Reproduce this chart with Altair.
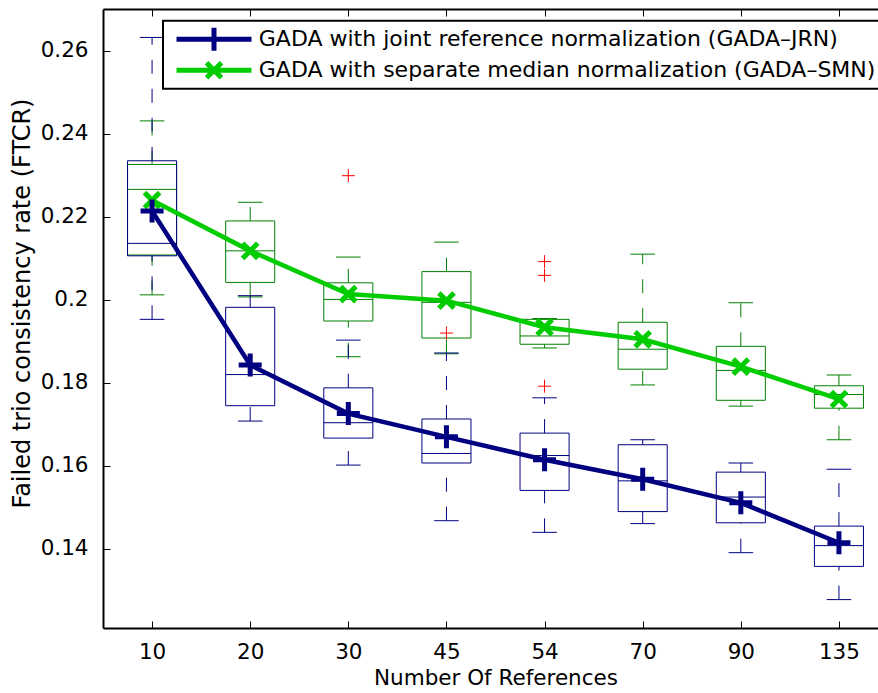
import altair as alt
import pandas as pd

# ---- data -------------------------------------------------------------
refs = ["10", "20", "30", "45", "54", "70", "90", "135"]

jrn_label = "GADA with joint reference normalization (GADA–JRN)"
smn_label = "GADA with separate median normalization (GADA–SMN)"

# box statistics (upper adjacent, quartiles, median, lower adjacent) and means
jrn_upper = [0.2632, 0.2010, 0.1903, 0.1872, 0.1764, 0.1663, 0.1607, 0.1592]
jrn_q3 = [0.2335, 0.1982, 0.1788, 0.1713, 0.1679, 0.1651, 0.1585, 0.1455]
jrn_median = [0.2136, 0.1820, 0.1704, 0.1630, 0.1625, 0.1564, 0.1525, 0.1408]
jrn_q1 = [0.2106, 0.1745, 0.1667, 0.1607, 0.1541, 0.1490, 0.1463, 0.1358]
jrn_lower = [0.1953, 0.1708, 0.1602, 0.1468, 0.1440, 0.1461, 0.1391, 0.1278]
jrn_mean = [0.2214, 0.1843, 0.1726, 0.1670, 0.1615, 0.1568, 0.1511, 0.1415]
jrn_outlier_refs = ["45", "54"]
jrn_outliers = [0.1920, 0.1792]

smn_upper = [0.2431, 0.2235, 0.2103, 0.2139, 0.1955, 0.2110, 0.1993, 0.1819]
smn_q3 = [0.2326, 0.2190, 0.2041, 0.2068, 0.1953, 0.1946, 0.1888, 0.1793]
smn_median = [0.2266, 0.2118, 0.2001, 0.1994, 0.1913, 0.1881, 0.1830, 0.1772]
smn_q1 = [0.2108, 0.2042, 0.1949, 0.1908, 0.1893, 0.1833, 0.1758, 0.1739]
smn_lower = [0.2012, 0.2007, 0.1863, 0.1870, 0.1884, 0.1795, 0.1744, 0.1663]
smn_mean = [0.2240, 0.2118, 0.2014, 0.1998, 0.1934, 0.1905, 0.1839, 0.1761]
smn_outlier_refs = ["30", "54", "54"]
smn_outliers = [0.2299, 0.2092, 0.2059]

y_ticks = [0.14, 0.16, 0.18, 0.20, 0.22, 0.24, 0.26]
y_range = [0.12096, 0.27005]

# ---- styling ----------------------------------------------------------
FONT = "DejaVu Sans"
FS = 21.5
NAVY = "#000080"
GREEN_BOX = "#008000"
GREEN_LINE = "#00CC00"
RED = "#FF0000"
BOX_HALF = 0.25
CAP_HALF = 0.125
WHISKER_DASH = [14, 15]

PLUS = "M-1,0L1,0M0,-1L0,1"
CROSS = "M-1,-1L1,1M-1,1L1,-1"
LEGEND_PLUS = "M-1,0L1,0M0,-0.307L0,0.307"
LEGEND_CROSS = "M-1,0L1,0M-0.2,-0.2L0.2,0.2M-0.2,0.2L0.2,-0.2"

positions = list(range(1, len(refs) + 1))


def stats_frame(name, upper, q3, median, q1, lower, mean):
    return pd.DataFrame({
        "series": name, "pos": positions, "ref": refs,
        "upper": upper, "q3": q3, "median": median,
        "q1": q1, "lower": lower, "mean": mean,
    })


jrn = stats_frame(jrn_label, jrn_upper, jrn_q3, jrn_median, jrn_q1, jrn_lower, jrn_mean)
smn = stats_frame(smn_label, smn_upper, smn_q3, smn_median, smn_q1, smn_lower, smn_mean)
means = pd.concat([jrn, smn], ignore_index=True)

outliers = pd.DataFrame({
    "pos": [refs.index(r) + 1 for r in jrn_outlier_refs + smn_outlier_refs],
    "value": jrn_outliers + smn_outliers,
})

X_SCALE = alt.Scale(domain=[0.5, len(refs) + 0.5], range=[0, 785], nice=False, zero=False)
Y_SCALE = alt.Scale(domain=y_range, nice=False, zero=False)

# inward tick marks are drawn as short dashes of the grid lines
frame = dict(
    grid=True, gridDash=[7, 2000], gridColor="black", gridWidth=1, gridOpacity=1,
    ticks=False, tickSize=0, domainColor="black", domainWidth=2,
)
Y_AXIS = alt.Axis(
    values=y_ticks, format="~g", labelFont=FONT, labelFontSize=FS, labelColor="black",
    labelPadding=15, title="Failed trio consistency rate (FTCR)", titleFont=FONT,
    titleFontSize=24, titleFontWeight="normal", titleColor="black", titlePadding=6,
    titleY=294,
    **frame,
)
BOTTOM_AXIS = alt.Axis(
    values=positions, labelExpr="%s[datum.value - 1]" % str(refs),
    labelFont=FONT, labelFontSize=FS, labelColor="black", labelPadding=13,
    title="Number Of References", titleFont=FONT, titleFontSize=FS,
    titleFontWeight="normal", titleColor="black", titlePadding=5,
    **frame,
)
TOP_AXIS = alt.Axis(orient="top", values=positions, labels=False, title=None, **frame)


def xenc(field, axis=None):
    return alt.X(field, type="quantitative", scale=X_SCALE, axis=axis)


def yenc(field):
    return alt.Y(field, type="quantitative", scale=Y_SCALE, axis=Y_AXIS)


def box_layers(df, color):
    base = alt.Chart(df).transform_calculate(
        b0=f"datum.pos - {BOX_HALF}", b1=f"datum.pos + {BOX_HALF}",
        c0=f"datum.pos - {CAP_HALF}", c1=f"datum.pos + {CAP_HALF}",
    )
    dashed = dict(color=color, strokeWidth=1, strokeDash=WHISKER_DASH)
    solid = dict(color=color, strokeWidth=1)
    return [
        base.mark_rule(**dashed).encode(x=xenc("pos"), y=yenc("q3"), y2="upper"),
        base.mark_rule(**dashed).encode(x=xenc("pos"), y=yenc("lower"), y2="q1"),
        base.mark_rule(**solid).encode(x=xenc("c0"), x2="c1", y=yenc("upper")),
        base.mark_rule(**solid).encode(x=xenc("c0"), x2="c1", y=yenc("lower")),
        base.mark_rect(fillOpacity=0, stroke=color, strokeWidth=1).encode(
            x=xenc("b0"), x2="b1", y=yenc("q1"), y2="q3"),
        base.mark_rule(**solid).encode(x=xenc("b0"), x2="b1", y=yenc("median")),
    ]


outlier_layer = alt.Chart(outliers).mark_point(
    shape=PLUS, filled=False, color=RED, strokeWidth=1, size=169, opacity=1
).encode(x=xenc("pos"), y=yenc("value"))

smn_line = alt.Chart(smn).mark_line(color=GREEN_LINE, strokeWidth=4.5).encode(
    x=xenc("pos"), y=yenc("mean"))
smn_marks = alt.Chart(smn).mark_point(
    shape=CROSS, filled=False, color=GREEN_LINE, strokeWidth=5, size=230, opacity=1
).encode(x=xenc("pos"), y=yenc("mean"))
jrn_line = alt.Chart(jrn).mark_line(color=NAVY, strokeWidth=4.5).encode(
    x=xenc("pos", BOTTOM_AXIS), y=yenc("mean"))
jrn_marks = alt.Chart(jrn).mark_point(
    shape=PLUS, filled=False, color=NAVY, strokeWidth=5, size=529, opacity=1
).encode(x=xenc("pos"), y=yenc("mean"))

LEGEND = alt.Legend(
    title=None, orient="none", legendX=60, legendY=11.7, padding=6,
    fillColor="white", strokeColor="black", cornerRadius=0,
    labelFont=FONT, labelFontSize=22, labelColor="black", labelLimit=1000,
    labelOffset=4.8, symbolOffset=5, symbolSize=5625, symbolStrokeWidth=5,
    clipHeight=25, rowPadding=6,
)
legend_layer = alt.Chart(means).mark_point(
    filled=False, strokeWidth=5, size=0, opacity=1
).encode(
    x=xenc("pos", TOP_AXIS),
    y=yenc("mean"),
    color=alt.Color("series:N", scale=alt.Scale(domain=[jrn_label, smn_label], range=[NAVY, GREEN_LINE]), legend=LEGEND),
    shape=alt.Shape("series:N", scale=alt.Scale(domain=[jrn_label, smn_label], range=[LEGEND_PLUS, LEGEND_CROSS]), legend=LEGEND),
)

layers = (
    box_layers(smn, GREEN_BOX)
    + box_layers(jrn, NAVY)
    + [outlier_layer, smn_line, smn_marks, jrn_line, jrn_marks, legend_layer]
)

chart = alt.layer(*layers).resolve_axis(x="independent").properties(
    width=774, height=619,
    autosize=alt.AutoSizeParams(type="none"),
    padding={"left": 103, "top": 9, "right": 1, "bottom": 65},
).configure_view(strokeWidth=0).configure_legend(strokeWidth=2)

chart.save("out.html", embed_options={"renderer": "svg", "actions": False})
